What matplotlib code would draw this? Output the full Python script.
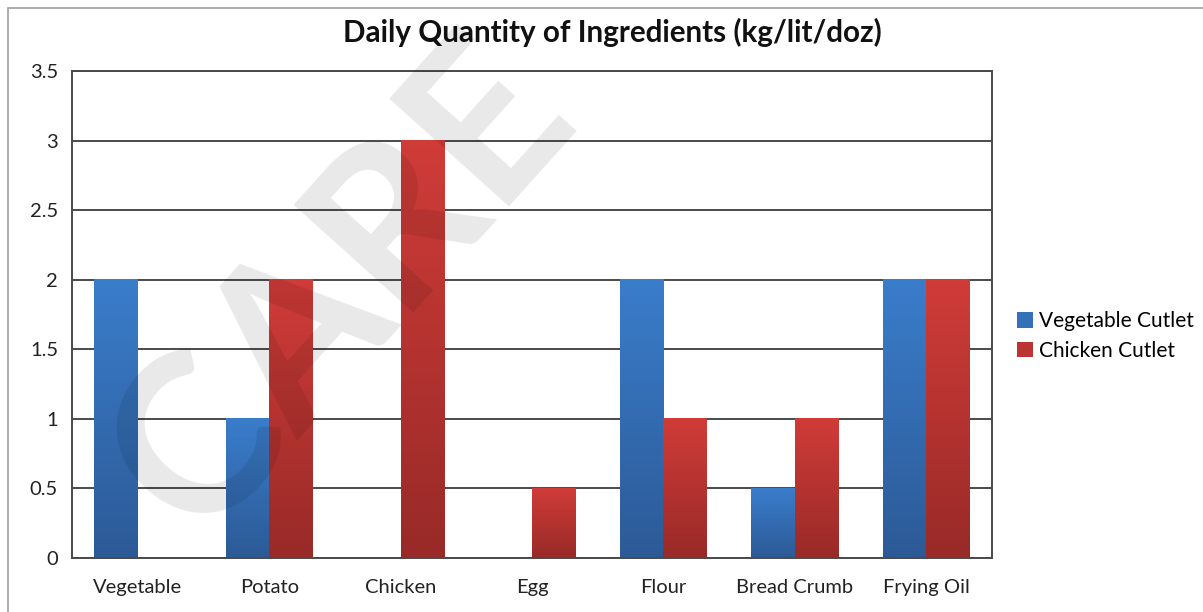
import numpy as np
import matplotlib
matplotlib.use("Agg")
import matplotlib.pyplot as plt
from matplotlib.colors import LinearSegmentedColormap
from matplotlib.patches import Patch, Rectangle

# data
categories = ["Vegetable", "Potato", "Chicken", "Egg", "Flour", "Bread Crumb", "Frying Oil"]
veg_cutlet = [2, 1, 0, 0, 2, 0.5, 2]
chicken_cutlet = [0, 2, 3, 0.5, 1, 1, 2]
series_names = ["Vegetable Cutlet", "Chicken Cutlet"]
y_ticks = [0, 0.5, 1, 1.5, 2, 2.5, 3, 3.5]

plt.rcParams['font.family'] = ['Lato', 'DejaVu Sans']

# Excel style vertical gradients (bottom -> top)
blue_cmap = LinearSegmentedColormap.from_list("blue", ["#2C5A96", "#3A7DCB"])
red_cmap = LinearSegmentedColormap.from_list("red", ["#982A28", "#D03C38"])

fig = plt.figure(figsize=(12.03, 6.12), dpi=100)
ax = fig.add_axes([72 / 1203, 1 - 558 / 612, 920 / 1203, 487 / 612])

# outer chart frame
fig.patches.append(Rectangle((8 / 1203, -0.1), 1.2, 1 - 8 / 612 + 0.1,
                             transform=fig.transFigure, fill=False,
                             edgecolor="#A0A0A0", linewidth=1.2))

x = np.arange(len(categories))
w = 0.33

bars_veg = ax.bar(x - w / 2, veg_cutlet, w, color="none", edgecolor="none")
bars_chk = ax.bar(x + w / 2, chicken_cutlet, w, color="none", edgecolor="none")

grad = np.linspace(0, 1, 256).reshape(-1, 1)
for bars, cmap in [(bars_veg, blue_cmap), (bars_chk, red_cmap)]:
    for b in bars:
        h = b.get_height()
        if h <= 0:
            continue
        x0 = b.get_x()
        ax.imshow(grad, extent=[x0, x0 + b.get_width(), 0, h], origin="lower",
                  aspect="auto", cmap=cmap, zorder=2, interpolation="bilinear")

ax.set_xlim(-0.5, len(categories) - 0.5)
ax.set_ylim(0, 3.5)
ax.set_yticks(y_ticks)
ax.set_yticklabels([f"{t:g}" for t in y_ticks])
ax.set_xticks(x)
ax.set_xticklabels(categories)
ax.tick_params(length=0, labelsize=14.5, colors="#222222")
ax.tick_params(axis="y", pad=10)
ax.tick_params(axis="x", pad=15)

ax.yaxis.grid(True, color="#4A4A4A", linewidth=1.4)
ax.set_axisbelow(True)
for s in ax.spines.values():
    s.set_color("#4A4A4A")
    s.set_linewidth(1.4)

fig.text(612 / 1203, 1 - 32 / 612, "Daily Quantity of Ingredients (kg/lit/doz)",
         ha="center", va="center", fontsize=21.3, fontweight="bold", color="#111111")

handles = [Patch(facecolor="#3470B8", edgecolor="none"),
           Patch(facecolor="#BB3431", edgecolor="none")]
fig.legend(handles, series_names, loc="center left",
           bbox_to_anchor=(1009 / 1203, 1 - 336 / 612), frameon=False,
           fontsize=15, handlelength=0.75, handleheight=0.75,
           handletextpad=0.3, labelspacing=0.45, borderaxespad=0)

# watermark
fig.text(150 / 1203, 1 - 500 / 612, "CARE", rotation=48, rotation_mode="anchor",
         ha="left", va="center", fontsize=160, fontweight="bold",
         color="black", alpha=0.09, zorder=10)

fig.savefig("out.png", dpi=100)
